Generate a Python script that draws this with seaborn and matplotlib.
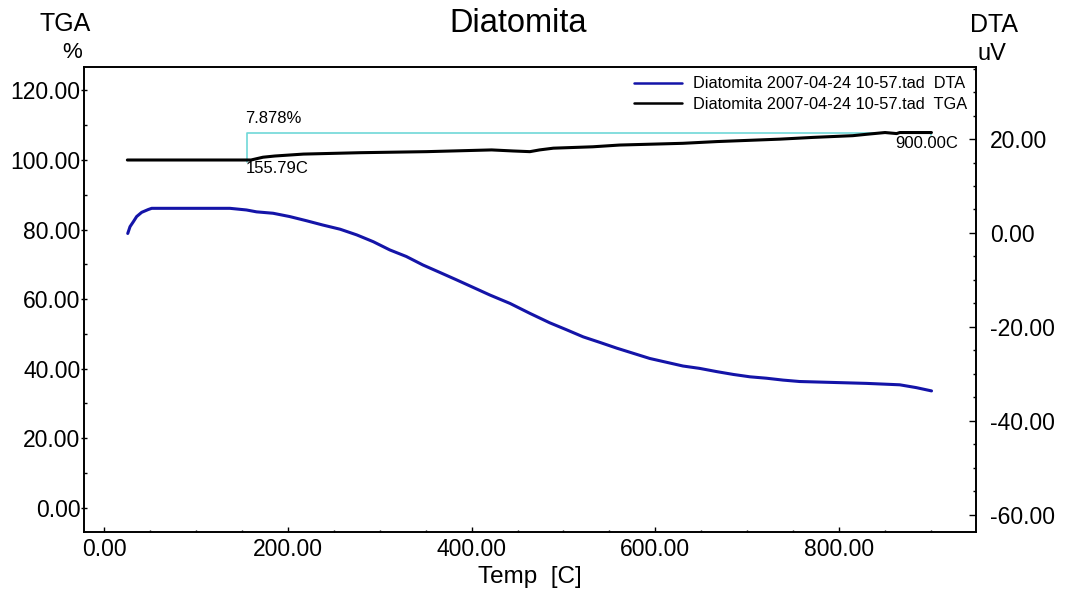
import numpy as np
import pandas as pd
import matplotlib
matplotlib.use("Agg")
import matplotlib.pyplot as plt
from matplotlib.ticker import MultipleLocator, FormatStrFormatter
import seaborn as sns

# DTA signal (uV) against temperature (C)
dta_temp = [25.8, 28.3, 31.9, 35.5, 41.0, 48.2, 51.9, 137.0, 155.0, 166.0, 184.0,
            202.0, 220.5, 238.0, 257.0, 275.0, 293.0, 311.0, 329.0, 347.0, 365.6,
            384.0, 402.0, 420.0, 442.0, 463.5, 485.0, 503.5, 521.5, 540.0, 558.0,
            576.0, 594.0, 612.0, 630.0, 648.0, 667.0, 685.0, 703.0, 721.0, 739.0,
            757.0, 793.6, 830.0, 866.0, 884.0, 900.6]
dta_uv = [-0.1, 1.35, 2.4, 3.5, 4.4, 5.0, 5.25, 5.25, 4.9, 4.5, 4.2,
          3.5, 2.6, 1.7, 0.8, -0.4, -1.85, -3.6, -5.0, -6.8, -8.4,
          -10.0, -11.6, -13.2, -15.0, -17.1, -19.1, -20.6, -22.1, -23.3, -24.5,
          -25.6, -26.7, -27.5, -28.3, -28.8, -29.5, -30.1, -30.6, -30.9, -31.3,
          -31.6, -31.8, -32.0, -32.3, -32.9, -33.6]

# TGA mass (%) against temperature (C)
tga_temp = [25.4, 160.0, 173.0, 186.0, 217.0, 278.6, 351.0, 421.8, 445.0, 463.5,
            474.0, 489.0, 532.0, 561.0, 630.0, 667.0, 735.6, 771.6, 815.0, 830.0,
            850.0, 862.6, 866.0, 900.5]
tga_pct = [100.0, 100.0, 100.8, 101.15, 101.7, 102.1, 102.4, 102.9, 102.6, 102.4,
           102.9, 103.4, 103.8, 104.3, 104.8, 105.3, 106.0, 106.5, 107.0, 107.4,
           107.9, 107.6, 107.9, 107.9]

# Mass-change step analysis
onset_temp = 155.79
end_temp = 900.00
mass_change = 7.878

legend_labels = ["Diatomita 2007-04-24 10-57.tad  DTA",
                 "Diatomita 2007-04-24 10-57.tad  TGA"]

dta_df = pd.DataFrame({"Temp": dta_temp, "DTA": dta_uv})
tga_df = pd.DataFrame({"Temp": tga_temp, "TGA": tga_pct})

sns.set_theme(style="white")
plt.rcParams["font.family"] = ["Liberation Sans", "DejaVu Sans"]
plt.rcParams.update({"text.color": "black", "axes.labelcolor": "black",
                     "xtick.color": "black", "ytick.color": "black"})

W, H = 1066, 592
fig = plt.figure(figsize=(W / 100, H / 100), dpi=100)
fig.patch.set_facecolor("white")

x0, x1, y0, y1 = 84, 976, 67, 532
ax = fig.add_axes([x0 / W, 1 - y1 / H, (x1 - x0) / W, (y1 - y0) / H])
ax2 = ax.twinx()

blue = "#1414a8"
cyan = "#6fd8d8"

sns.lineplot(data=dta_df, x="Temp", y="DTA", ax=ax2, color=blue,
             linewidth=2.2, legend=False, zorder=3)
sns.lineplot(data=tga_df, x="Temp", y="TGA", ax=ax, color="black",
             linewidth=2.2, legend=False, zorder=3)

# Step bracket for the mass change
top = tga_pct[0] + mass_change
ax.plot([onset_temp, onset_temp, end_temp, end_temp],
        [tga_pct[0] - 0.5, top, top, tga_pct[-1] - 0.8],
        color=cyan, linewidth=1.2, zorder=2)

ann_kw = dict(fontsize=12, color="black", textcoords="offset points")
ax.annotate(f"{mass_change:.3f}%", xy=(onset_temp, top), xytext=(-1.5, 9.8),
            ha="left", va="center", **ann_kw)
ax.annotate(f"{onset_temp:.2f}C", xy=(onset_temp, tga_pct[0]), xytext=(-1, -5.8),
            ha="left", va="center", **ann_kw)
ax.annotate(f"{end_temp:.2f}C", xy=(end_temp, tga_pct[-1]), xytext=(-3.4, -8),
            ha="center", va="center", **ann_kw)

# Axis limits and ticks
ax.set_xlim(-21.8, 949)
ax.set_ylim(-7.0, 126.75)
ax2.set_ylim(-63.62, 35.32)

ax.xaxis.set_major_locator(MultipleLocator(200))
ax.xaxis.set_minor_locator(MultipleLocator(50))
ax.yaxis.set_major_locator(MultipleLocator(20))
ax.yaxis.set_minor_locator(MultipleLocator(10))
ax2.yaxis.set_major_locator(MultipleLocator(20))
ax2.yaxis.set_minor_locator(MultipleLocator(5))
for a in (ax.xaxis, ax.yaxis, ax2.yaxis):
    a.set_major_formatter(FormatStrFormatter("%.2f"))

tick_fs = 16.5
ax.tick_params(axis="x", which="major", direction="in", length=3.6, width=1,
               labelsize=tick_fs, pad=4, bottom=True, top=False)
ax.tick_params(axis="x", which="minor", direction="in", length=1.6, width=1,
               bottom=True, top=False)
ax.tick_params(axis="y", which="major", direction="inout", length=5, width=1,
               labelsize=tick_fs, pad=0, left=True, right=False)
ax.tick_params(axis="y", which="minor", direction="in", length=2, width=1,
               left=True, right=False)
ax2.tick_params(axis="y", which="major", direction="in", length=5, width=1,
                labelsize=tick_fs, pad=10, right=True, left=False)
ax2.tick_params(axis="y", which="minor", direction="in", length=2, width=1,
                right=True, left=False)

for a in (ax, ax2):
    for s in a.spines.values():
        s.set_color("black")
        s.set_linewidth(1.2)
    a.grid(False)

ax.set_ylabel("")
ax2.set_ylabel("")
ax.set_xlabel("Temp  [C]", fontsize=17.5)
ax.xaxis.set_label_coords(0.5, (y1 - 577) / (y1 - y0))
ax.xaxis.label.set_va("center")

# Legend
handles = [ax2.get_lines()[0], ax.get_lines()[0]]
leg = ax2.legend(handles, legend_labels, loc="upper right",
                 bbox_to_anchor=((967 - x0) / (x1 - x0), 1 - (76.5 - y0) / (y1 - y0)),
                 frameon=False, fontsize=11.8, handlelength=2.9, handletextpad=0.68,
                 labelspacing=0.33, borderpad=0, borderaxespad=0)
for ln in leg.get_lines():
    ln.set_linewidth(1.8)

# Title and axis captions
fig.text(518.5 / W, 1 - 23.3 / H, "Diatomita", fontsize=23.5, ha="center", va="center")
fig.text(65.3 / W, 1 - 24 / H, "TGA", fontsize=18, ha="center", va="center")
fig.text(71.7 / W, 1 - 53 / H, "%", fontsize=16, ha="center", va="center")
fig.text(993.8 / W, 1 - 24.5 / H, "DTA", fontsize=18, ha="center", va="center")
fig.text(992 / W, 1 - 54 / H, "uV", fontsize=17, ha="center", va="center")

fig.savefig("out.png", dpi=100, facecolor="white")
